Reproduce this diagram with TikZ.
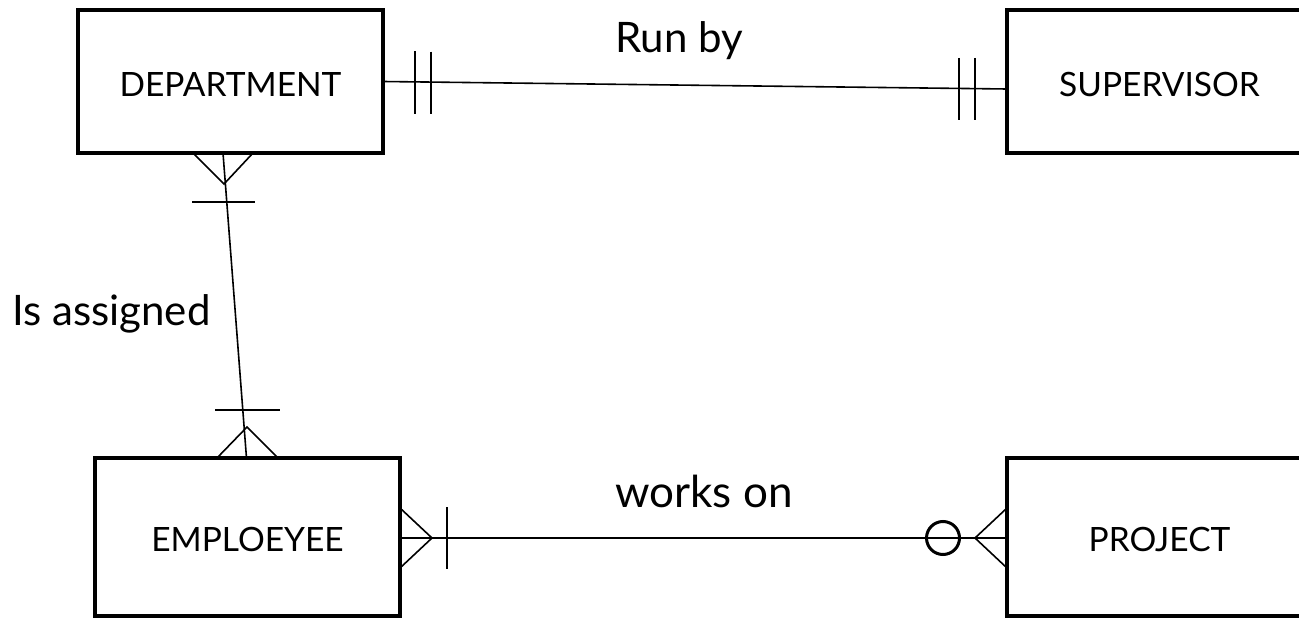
\documentclass[tikz,border=0pt]{standalone}
\usepackage{fontspec}
\setmainfont{Lato}
\begin{document}
\begin{tikzpicture}[x=1pt,y=-1pt,
  entity/.style={draw, line width=4pt, minimum width=305pt, outer sep=0pt, inner sep=0pt, text height=30pt, font=\fontsize{33.5}{40}\selectfont},
  conn/.style={line width=1.6pt},
  lbl/.style={inner sep=0pt, anchor=base west, font=\fontsize{42}{48}\selectfont}]
\useasboundingbox (0,0) rectangle (1299,618);
\clip (0,0) rectangle (1299,618);
\node[entity, minimum height=143pt] (dept) at (230.5,81.5) {DEPARTMENT};
\node[entity, minimum height=143pt] (sup) at (1159.5,81.5) {SUPERVISOR};
\node[entity, minimum height=158pt] (emp) at (247.5,537) {EMPLOEYEE};
\node[entity, minimum height=158pt] (proj) at (1159.5,537) {PROJECT};
% Run by
\draw[conn] (dept.east) -- ([yshift=-7.5pt]sup.west);
\draw[conn] ([xshift=32pt,yshift=-1pt]dept.east) ++(0,-31) -- ++(0,62);
\draw[conn] ([xshift=48pt,yshift=-1.2pt]dept.east) ++(0,-31) -- ++(0,62);
\draw[conn] ([xshift=-48pt,yshift=-7.5pt]sup.west) ++(0,-31) -- ++(0,62);
\draw[conn] ([xshift=-32pt,yshift=-7.5pt]sup.west) ++(0,-31) -- ++(0,62);
\node[lbl] (runby) at (615,53) {Run by};
% Is assigned
\draw[conn] ([xshift=-7.5pt]dept.south) -- ([xshift=-1pt]emp.north);
\draw[conn] ([xshift=-37.5pt]dept.south) -- ([xshift=-6.5pt,yshift=-31pt]dept.south) -- ([xshift=22.5pt]dept.south);
\draw[conn] ([xshift=-38.5pt,yshift=-49pt]dept.south) -- ++(63,0);
\draw[conn] ([xshift=-30.5pt]emp.north) -- ([xshift=-0.5pt,yshift=31pt]emp.north) -- ([xshift=30.5pt]emp.north);
\draw[conn] ([xshift=-32.5pt,yshift=48pt]emp.north) -- ++(65,0);
\node[lbl] (isas) at (12,325) {Is assigned};
% works on
\draw[conn] ([yshift=-1pt]emp.east) -- ([yshift=-1pt]proj.west);
\draw[conn] ([yshift=29pt]emp.east) -- ([xshift=32pt,yshift=-1pt]emp.east) -- ([yshift=-31pt]emp.east);
\draw[conn] ([xshift=47pt,yshift=-1pt]emp.east) ++(0,-31) -- ++(0,62);
\draw[conn] ([yshift=29pt]proj.west) -- ([xshift=-32pt,yshift=-1pt]proj.west) -- ([yshift=-31pt]proj.west);
\draw[conn, line width=3pt] ([xshift=-64pt,yshift=-1pt]proj.west) circle[radius=16.5pt];
\node[lbl, font=\fontsize{44}{50}\selectfont] (works) at (615,507) {works on};
\end{tikzpicture}
\end{document}
